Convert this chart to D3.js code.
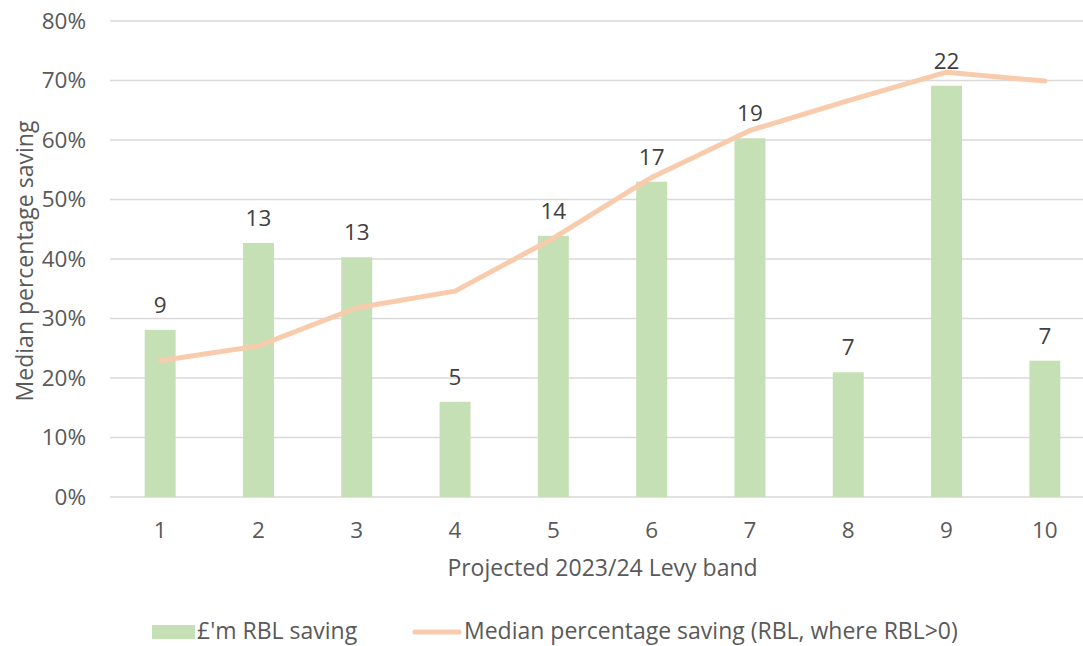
<!DOCTYPE html>
<html>
<head>
<meta charset="utf-8">
<script src="https://cdn.jsdelivr.net/npm/d3@7"></script>
<style>
  html, body { margin: 0; padding: 0; background: #fff; }
  svg { display: block; font-family: "Open Sans", "Noto Sans", sans-serif; }
</style>
</head>
<body>
<svg id="chart" width="1083" height="646"></svg>
<script>
// Levy bands on the x axis
const bands = ["1", "2", "3", "4", "5", "6", "7", "8", "9", "10"];
// £'m RBL saving per band (plotted against a hidden secondary scale)
const rblSaving = [8.78, 13.34, 12.59, 5.0, 13.72, 16.56, 18.84, 6.55, 21.6, 7.16];
// Median percentage saving (RBL, where RBL>0), as fractions
const medianSaving = [0.229, 0.254, 0.318, 0.346, 0.435, 0.537, 0.616, 0.666, 0.714, 0.699];
// Primary y axis ticks
const yTicks = [0, 0.1, 0.2, 0.3, 0.4, 0.5, 0.6, 0.7, 0.8];

const svg = d3.select("#chart");
const margin = { left: 111, right: 1094, top: 21, bottom: 497 };
const textColor = "#595959";
const barColor = "#C5E0B4";
const lineColor = "#F8CBAD";
const gridColor = "#D9D9D9";
const tickFont = 22.5;
const titleFont = 23;

const x = d3.scaleBand().domain(bands).range([margin.left, margin.right]).paddingInner(0.685).paddingOuter(0.3425);
const y = d3.scaleLinear().domain([0, 0.8]).range([margin.bottom, margin.top]);
const y2 = d3.scaleLinear().domain([0, 25]).range([margin.bottom, margin.top]);

// Horizontal gridlines
svg.append("g")
  .selectAll("line")
  .data(yTicks)
  .join("line")
  .attr("x1", 110).attr("x2", 1083)
  .attr("y1", d => y(d)).attr("y2", d => y(d))
  .attr("stroke", gridColor).attr("stroke-width", 1.3);

// Y axis tick labels
const yAxis = d3.axisLeft(y).tickValues(yTicks).tickFormat(d3.format(".0%")).tickSize(0).tickPadding(0);
svg.append("g")
  .attr("transform", "translate(86,0)")
  .call(yAxis)
  .call(g => g.select(".domain").remove())
  .call(g => g.selectAll("text")
    .attr("fill", textColor).attr("font-size", tickFont).attr("font-family", "'Open Sans', sans-serif"));

// X axis tick labels
const xAxis = d3.axisBottom(x).tickSize(0).tickPadding(0);
svg.append("g")
  .attr("transform", "translate(0,522)")
  .call(xAxis)
  .call(g => g.select(".domain").remove())
  .call(g => g.selectAll("text")
    .attr("fill", textColor).attr("font-size", tickFont).attr("font-family", "'Open Sans', sans-serif"));

// Bars
svg.append("g")
  .selectAll("rect")
  .data(rblSaving)
  .join("rect")
  .attr("x", (d, i) => x(bands[i]))
  .attr("width", x.bandwidth())
  .attr("y", d => y2(d))
  .attr("height", d => y2(0) - y2(d))
  .attr("fill", barColor);

// Bar value labels
svg.append("g")
  .selectAll("text")
  .data(rblSaving)
  .join("text")
  .attr("x", (d, i) => x(bands[i]) + x.bandwidth() / 2)
  .attr("y", d => y2(d) - 17)
  .attr("text-anchor", "middle")
  .attr("fill", "#404040")
  .attr("font-size", tickFont)
  .text(d => d3.format(".0f")(d));

// Median percentage line
const line = d3.line()
  .x((d, i) => x(bands[i]) + x.bandwidth() / 2)
  .y(d => y(d));
svg.append("path")
  .datum(medianSaving)
  .attr("d", line)
  .attr("fill", "none")
  .attr("stroke", lineColor)
  .attr("stroke-width", 5)
  .attr("stroke-linejoin", "round")
  .attr("stroke-linecap", "round");

// Axis titles
svg.append("text")
  .attr("x", (margin.left + margin.right) / 2)
  .attr("y", 576)
  .attr("text-anchor", "middle")
  .attr("fill", textColor)
  .attr("font-size", titleFont)
  .text("Projected 2023/24 Levy band");

svg.append("text")
  .attr("transform", `translate(33,${(margin.top + margin.bottom) / 2 + 2}) rotate(-90)`)
  .attr("text-anchor", "middle")
  .attr("fill", textColor)
  .attr("font-size", titleFont)
  .text("Median percentage saving");

// Legend
const legend = svg.append("g");
legend.append("rect")
  .attr("x", 152).attr("y", 625).attr("width", 43).attr("height", 14)
  .attr("fill", barColor);
legend.append("text")
  .attr("x", 197).attr("y", 639)
  .attr("fill", textColor).attr("font-size", titleFont)
  .text("£'m RBL saving");
legend.append("line")
  .attr("x1", 415).attr("x2", 459).attr("y1", 632).attr("y2", 632)
  .attr("stroke", lineColor).attr("stroke-width", 5).attr("stroke-linecap", "round");
legend.append("text")
  .attr("x", 464).attr("y", 639)
  .attr("fill", textColor).attr("font-size", titleFont)
  .text("Median percentage saving (RBL, where RBL>0)");
</script>
</body>
</html>
